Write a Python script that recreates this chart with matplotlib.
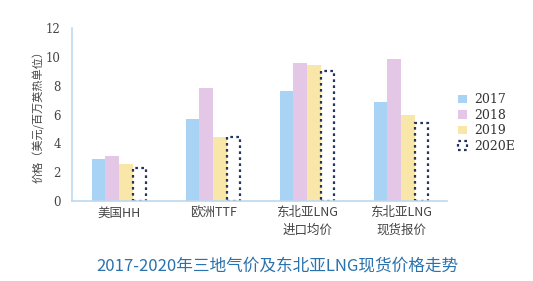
import numpy as np
import matplotlib.pyplot as plt

plt.rcParams['font.family'] = ['Noto Sans CJK SC', 'DejaVu Sans']

categories = ["美国HH", "欧洲TTF", "东北亚LNG\n进口均价", "东北亚LNG\n现货报价"]
years = ["2017", "2018", "2019", "2020E"]
v2017 = [2.9, 5.7, 7.65, 6.85]
v2018 = [3.15, 7.85, 9.6, 9.85]
v2019 = [2.55, 4.45, 9.45, 5.95]
v2020 = [2.3, 4.45, 9.05, 5.4]

colors = ['#a9d3f5', '#e4c6e6', '#f9e7a9', 'white']

fig = plt.figure(figsize=(5.33, 2.81), dpi=100)
ax = fig.add_axes([0.135, 0.285, 0.704, 0.615])

x = np.arange(len(categories))
w = 0.145
series = [v2017, v2018, v2019, v2020]
for i, (vals, c, lab) in enumerate(zip(series, colors, years)):
    pos = x + (i - 1.5) * w
    if lab == "2020E":
        ax.bar(pos, vals, w * 0.9, color='white', edgecolor='#23355e',
               linestyle=(0, (1.2, 1.5)), linewidth=1.6, label=lab)
    else:
        ax.bar(pos, vals, w, color=c, label=lab)

ax.set_xlim(-0.5, 3.49)
ax.set_ylim(0, 12)
ax.set_yticks(range(0, 13, 2))
ax.set_xticks(x)
ax.set_xticklabels(categories, fontsize=9, color='#444444', linespacing=1.45)
ax.tick_params(axis='y', labelsize=8.5, colors='#444444', length=0, pad=8)
ax.tick_params(axis='x', length=0, pad=4)
for lbl in ax.get_yticklabels():
    lbl.set_family(['DejaVu Serif'])
ax.set_ylabel("价格（美元/百万英热单位）", fontsize=8, color='#444444', labelpad=1)

for s in ['top', 'right']:
    ax.spines[s].set_visible(False)
for s in ['left', 'bottom']:
    ax.spines[s].set_color('#bcd9ee')
    ax.spines[s].set_linewidth(1.2)

leg = ax.legend(loc='center left', bbox_to_anchor=(1.0, 0.45), frameon=False,
                fontsize=9, handlelength=0.7, handleheight=0.7,
                handletextpad=0.6, labelspacing=0.2)
for t in leg.get_texts():
    t.set_color('#333333')
    t.set_family(['DejaVu Serif'])

fig.text(0.52, 0.055, "2017-2020年三地气价及东北亚LNG现货价格走势",
         ha='center', va='center', fontsize=12, color='#2a72ad')

fig.savefig("out.png", dpi=100)
